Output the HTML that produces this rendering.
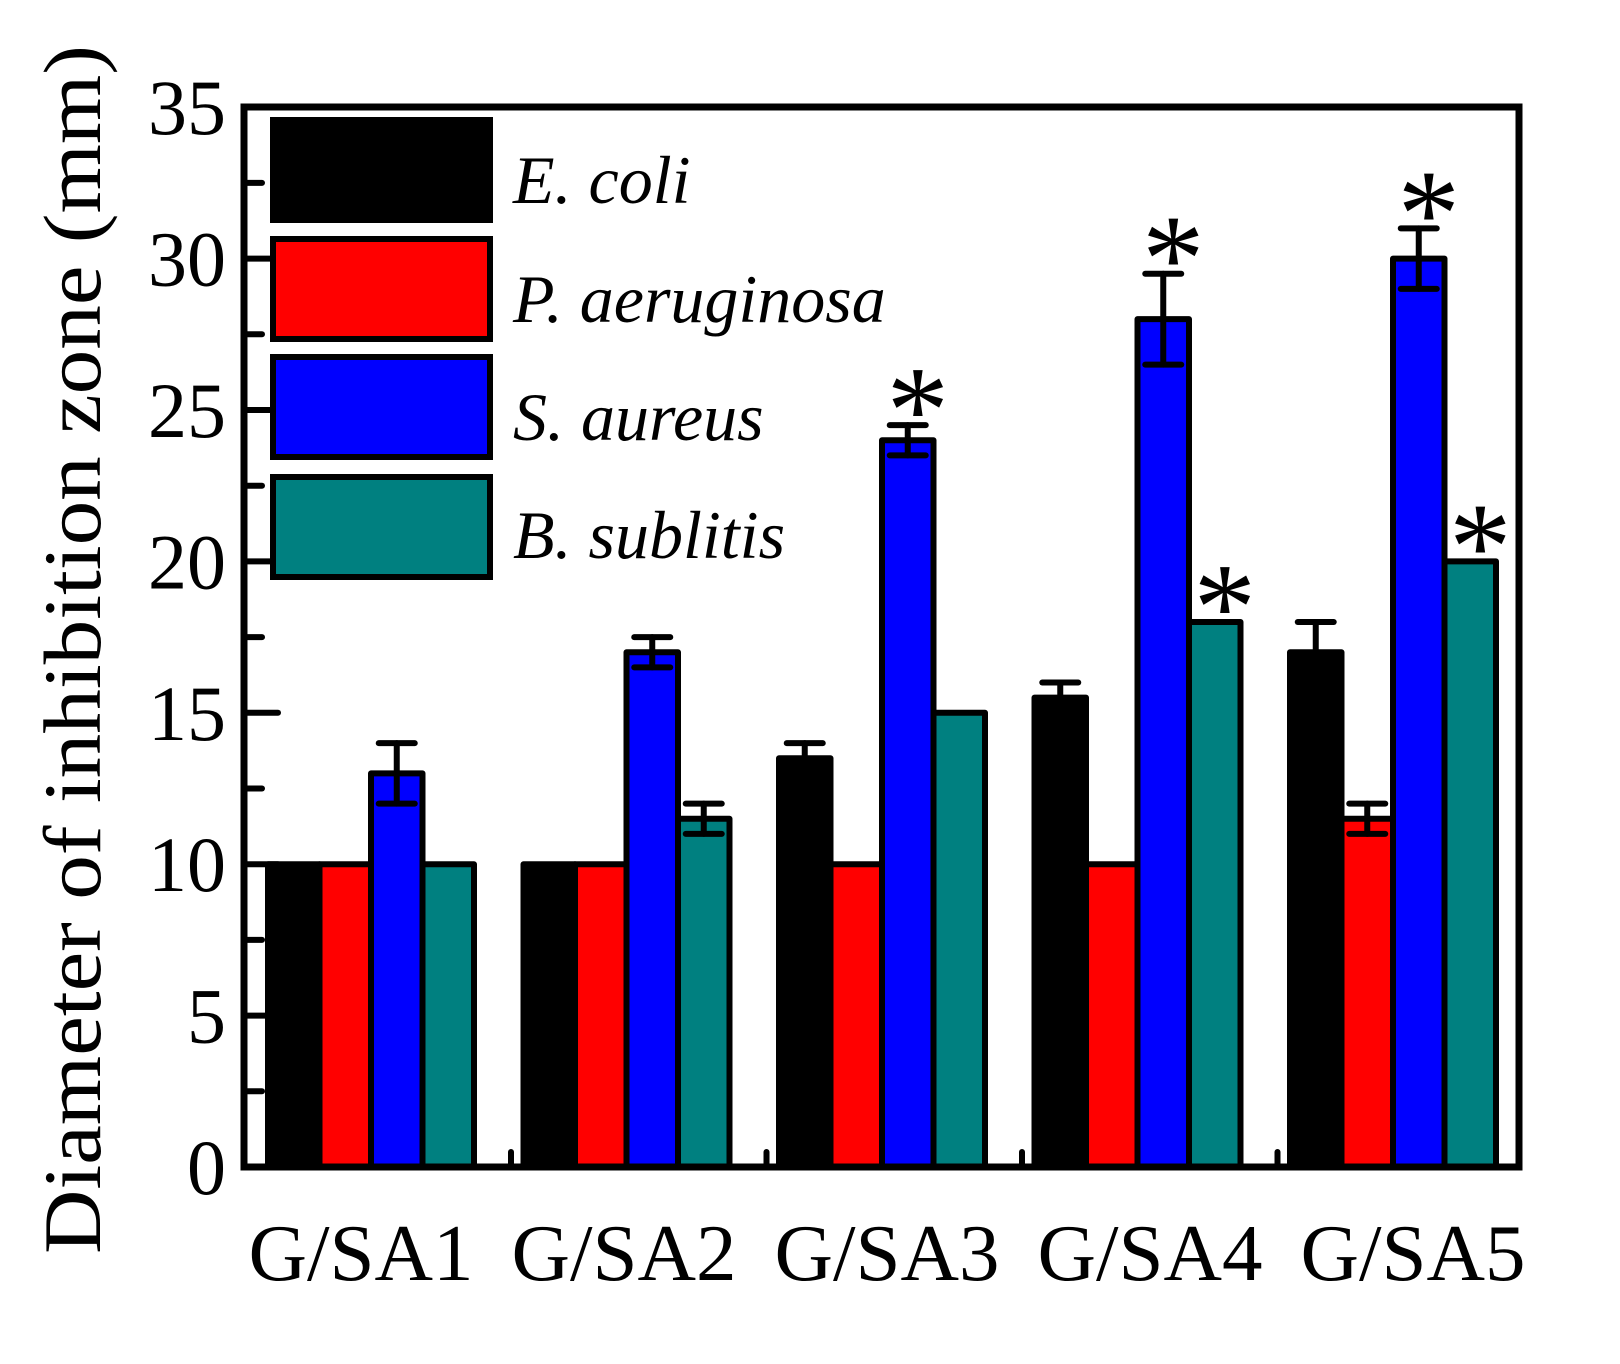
<!DOCTYPE html>
<html><head><meta charset="utf-8"><style>
html,body{margin:0;padding:0;background:#fff;}
svg{display:block;}
text{font-family:"Liberation Serif",serif;fill:#000;}
</style></head><body>
<svg width="1620" height="1364" viewBox="0 0 1620 1364" xmlns="http://www.w3.org/2000/svg">
<g id="bars" stroke="#000" stroke-width="6" stroke-linejoin="round"></g>
<g id="errs" stroke="#000" stroke-width="6" stroke-linecap="round"></g>
<g id="stars"></g>
<!-- axes -->
<rect x="244" y="107" width="1275" height="1060" fill="none" stroke="#000" stroke-width="7"/>
<g id="ticks" stroke="#000" stroke-width="6" stroke-linecap="round"></g>
<g id="ylabels" font-size="78" text-anchor="end"></g>
<g font-size="81" text-anchor="middle">
<text x="361" y="1280">G/SA1</text>
<text x="624" y="1280">G/SA2</text>
<text x="887" y="1280">G/SA3</text>
<text x="1150" y="1280">G/SA4</text>
<text x="1413" y="1280">G/SA5</text>
</g>
<text transform="translate(100,1254) rotate(-90)" font-size="82" textLength="1209" lengthAdjust="spacingAndGlyphs">Diameter of inhibition zone (mm)</text>
<!-- legend -->
<g stroke="#000" stroke-width="6">
<rect x="273" y="120" width="217" height="100" fill="#000"/>
<rect x="273" y="239" width="217" height="100" fill="#ff0000"/>
<rect x="273" y="357" width="217" height="100" fill="#0000ff"/>
<rect x="273" y="477" width="217" height="100" fill="#008080"/>
</g>
<g font-size="68" font-style="italic">
<text x="513" y="203">E. coli</text>
<text x="513" y="322">P. aeruginosa</text>
<text x="513" y="440">S. aureus</text>
<text x="513" y="558">B. sublitis</text>
</g>
</svg>
<script>
var ns="http://www.w3.org/2000/svg";
function el(p,t,a,txt){var e=document.createElementNS(ns,t);for(var k in a)e.setAttribute(k,a[k]);if(txt)e.textContent=txt;document.getElementById(p).appendChild(e);return e;}
function Y(v){return 1167-30.28*v;}
var cols=["#000","#ff0000","#0000ff","#008080"];
var data=[[10,10,13,10],[10,10,17,11.5],[13.5,10,24,15],[15.5,10,28,18],[17,11.5,30,20]];
var errs=[[0,0,1,0],[0,0,0.5,0.5],[0.5,0,0.5,0],[0.5,0,1.5,0],[1,0.5,1,0]];
var stars=[[2,2],[3,2],[3,3],[4,2],[4,3]];
var x0=268,sp=255.5,bw=51.5;
for(var g=0;g<5;g++){for(var i=0;i<4;i++){var x=x0+g*sp+i*bw,v=data[g][i];
el("bars","rect",{x:x,y:Y(v),width:bw,height:1167-Y(v),fill:cols[i]});
var e=errs[g][i];if(e>0){var cx=x+bw/2;
el("errs","line",{x1:cx,y1:Y(v+e),x2:cx,y2:Y(v-e)});
el("errs","line",{x1:cx-18,y1:Y(v+e),x2:cx+18,y2:Y(v+e)});
el("errs","line",{x1:cx-18,y1:Y(v-e),x2:cx+18,y2:Y(v-e)});}}}
stars.forEach(function(s){var g=s[0],i=s[1],x=x0+g*sp+i*bw+bw/2+10,v=data[g][i]+errs[g][i];
el("stars","text",{x:x,y:Y(v)+27,"font-size":"125","text-anchor":"middle","font-family":"Liberation Sans, sans-serif"},"*");});
for(var v=0;v<=35;v+=2.5){var y=Y(v),major=(v%5===0);
if(v>0&&v<35)el("ticks","line",{x1:244,y1:y,x2:major?278:262,y2:y});
if(major)el("ylabels","text",{x:226,y:y+27},String(v));}
for(var k=1;k<5;k++){var x=x0+k*sp-12.5;el("ticks","line",{x1:x,y1:1167,x2:x,y2:1152});}
</script>
</body></html>
